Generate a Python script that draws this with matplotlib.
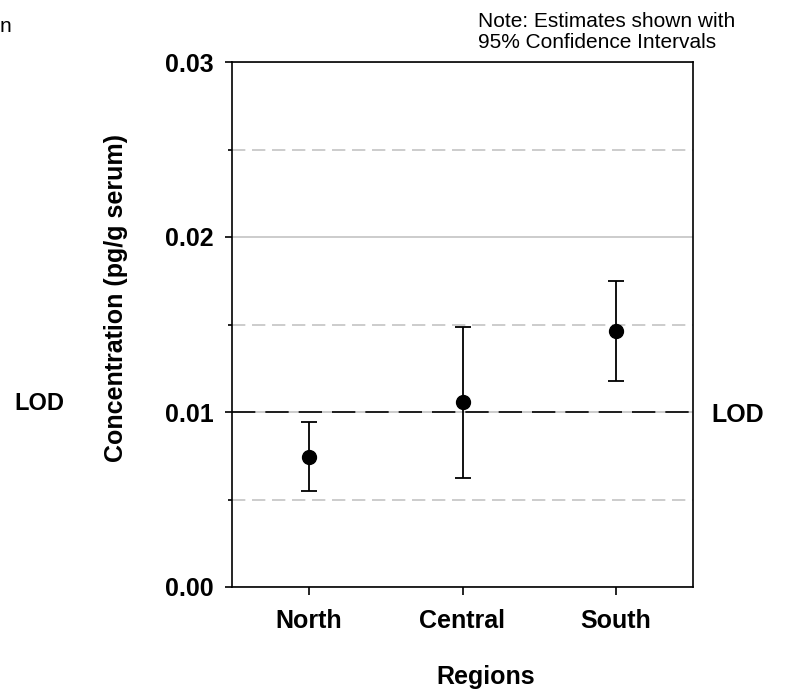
import matplotlib
matplotlib.use("Agg")
import matplotlib.pyplot as plt
from matplotlib.ticker import MultipleLocator

plt.rcParams['font.family'] = ['Liberation Sans', 'DejaVu Sans']

regions = ["North", "Central", "South"]
estimates = [0.00743, 0.01055, 0.01465]
lower = [0.00549, 0.00623, 0.01177]
upper = [0.00943, 0.01487, 0.0175]
lod = 0.01
y_ticks = [0.00, 0.01, 0.02, 0.03]
y_tick_labels = ["0.00", "0.01", "0.02", "0.03"]

W, H = 788, 696
fig = plt.figure(figsize=(W / 100, H / 100), dpi=100)
ax = fig.add_axes([232 / W, 1 - 587 / H, 461 / W, 525 / H])

x = list(range(1, len(regions) + 1))
yerr = [[e - l for e, l in zip(estimates, lower)], [u - e for u, e in zip(upper, estimates)]]

ax.set_xlim(0.5, 3.5)
ax.set_ylim(0, 0.03)
ax.yaxis.set_minor_locator(MultipleLocator(0.005))
ax.set_yticks(y_ticks)
ax.set_yticklabels(y_tick_labels, fontsize=18, fontweight='bold')
ax.set_xticks(x)
ax.set_xticklabels(regions, fontsize=18, fontweight='bold')

ax.grid(which='major', axis='y', color='#c4c4c4', linestyle='-', linewidth=1.2, zorder=0)
ax.grid(which='minor', axis='y', color='#c4c4c4', linestyle=(0, (8, 4)), linewidth=1.2, zorder=0)
ax.axhline(lod, color='black', linestyle=(0, (14, 6)), linewidth=1.2, zorder=2)

ax.errorbar(x, estimates, yerr=yerr, fmt='o', color='black', markersize=10,
            ecolor='black', elinewidth=1.3, capsize=6, capthick=1.3, zorder=3)

for s in ax.spines.values():
    s.set_linewidth(1.2)
ax.tick_params(axis='y', which='major', direction='out', length=5, width=1.2, pad=8.5)
ax.tick_params(axis='y', which='minor', direction='out', length=3, width=1.2)
ax.tick_params(axis='x', which='major', direction='out', length=5.5, width=1.2, pad=10)

ax.set_ylabel("Concentration (pg/g serum)", fontsize=18, fontweight='bold')
ax.yaxis.set_label_coords((116 - 232) / 461, (587 - 297.5) / 525)
ax.yaxis.label.set_va('center')
ax.yaxis.label.set_ha('center')
ax.set_xlabel("Regions", fontsize=18, fontweight='bold')
ax.xaxis.set_label_coords((486 - 232) / 461, (587 - 677) / 525)
ax.xaxis.label.set_va('center')
ax.xaxis.label.set_ha('center')

fig.text(39 / W, 1 - 410 / H, "LOD", fontsize=17, fontweight='bold', ha='center', va='baseline')
fig.text(738 / W, 1 - 422 / H, "LOD", fontsize=18, fontweight='bold', ha='center', va='baseline')
fig.text(478 / W, 1 - 27 / H, "Note: Estimates shown with", fontsize=15, ha='left', va='baseline')
fig.text(478 / W, 1 - 48 / H, "95% Confidence Intervals", fontsize=15, ha='left', va='baseline')
fig.text(0 / W, 1 - 32 / H, "n", fontsize=15, ha='left', va='baseline')

fig.savefig("out.png", dpi=100)
